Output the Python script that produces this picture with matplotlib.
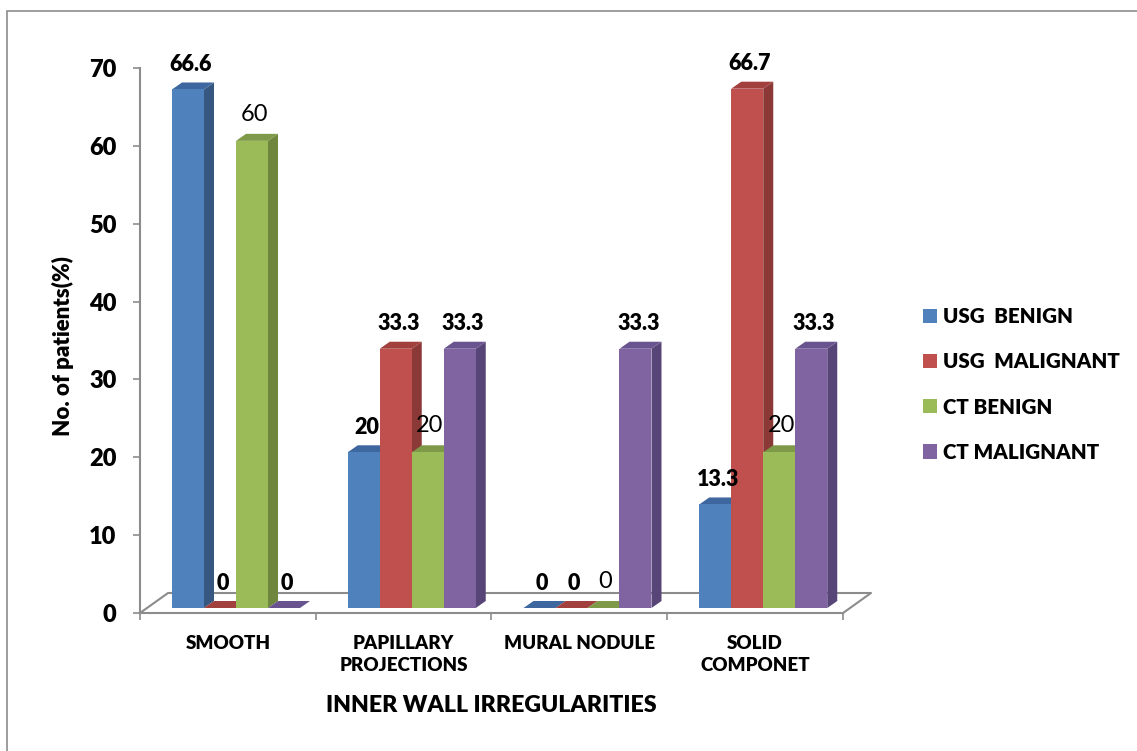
import matplotlib
matplotlib.use("Agg")
import matplotlib.pyplot as plt
from matplotlib.patches import Polygon, Patch, Rectangle
import numpy as np

plt.rcParams['font.family'] = ['Lato', 'DejaVu Sans']

# ---- data ----
categories = ["SMOOTH", "PAPILLARY\nPROJECTIONS", "MURAL NODULE", "SOLID\nCOMPONET"]
series_names = ["USG  BENIGN", "USG  MALIGNANT", "CT BENIGN", "CT MALIGNANT"]
usg_benign = [66.6, 20, 0, 13.3]
usg_malignant = [0, 33.3, 0, 66.7]
ct_benign = [60, 20, 0, 20]
ct_malignant = [0, 33.3, 33.3, 33.3]
y_ticks = [0, 10, 20, 30, 40, 50, 60, 70]

series_values = [usg_benign, usg_malignant, ct_benign, ct_malignant]
front_colors = ["#4F81BD", "#C0504D", "#9BBB59", "#8064A2"]
side_colors = ["#36577F", "#8A3937", "#6F863F", "#584578"]
top_colors = ["#3E67A0", "#A2403D", "#7E9A48", "#6A5490"]
label_bold = [True, True, False, True]

BOLD = 800

W, H = 1137, 751
fig = plt.figure(figsize=(W / 100, H / 100), dpi=100)
fig.patch.set_facecolor("white")

# outer frame of the chart area
fig.patches.append(Rectangle((7 / W, -0.05), 1.2, (H - 11) / H + 0.05,
                             transform=fig.transFigure, fill=False,
                             edgecolor="#8c8c8c", linewidth=1.2))

ax_l, ax_r, ax_t, ax_b = 140, 843, 68, 613
ax = fig.add_axes([ax_l / W, (H - ax_b) / H, (ax_r - ax_l) / W, (ax_b - ax_t) / H])
ax.set_xlim(0, 4)
ax.set_ylim(0, 70)
ax.set_facecolor("none")

px_x = (ax_r - ax_l) / 4.0
px_y = (ax_b - ax_t) / 70.0

bar_w = 32 / px_x
base = 5 / px_y
ddx, ddy = 10 / px_x, 7 / px_y
floor_dx, floor_dy = 28 / px_x, 20 / px_y

grey = "#8c8c8c"

# floor outline
ax.plot([0, floor_dx, 4 + floor_dx, 4], [0, floor_dy, floor_dy, 0],
        color=grey, lw=1.5, clip_on=False, zorder=2)

x_cat = np.arange(len(categories))
for i, (vals, fc, sc, tc) in enumerate(zip(series_values, front_colors,
                                            side_colors, top_colors)):
    lefts = x_cat + bar_w * (i + 1)
    z = 10 + 3 * i
    ax.bar(lefts, vals, width=bar_w, bottom=base, align="edge", color=fc,
           edgecolor="none", zorder=z + 1, clip_on=False, label=series_names[i])
    for left, v in zip(lefts, vals):
        top = base + v
        side = Polygon([(left + bar_w, base), (left + bar_w + ddx, base + ddy),
                        (left + bar_w + ddx, top + ddy), (left + bar_w, top)],
                       closed=True, facecolor=sc, edgecolor="none",
                       zorder=z, clip_on=False)
        cap = Polygon([(left, top), (left + ddx, top + ddy),
                       (left + bar_w + ddx, top + ddy), (left + bar_w, top)],
                      closed=True, facecolor=tc, edgecolor="none",
                      zorder=z, clip_on=False)
        ax.add_patch(side)
        ax.add_patch(cap)
        txt = f"{v:g}"
        if label_bold[i]:
            ax.annotate(txt, (left + bar_w / 2, top), xytext=(2, 18),
                        textcoords="offset points", ha="center", va="center",
                        fontsize=15.5, fontweight=BOLD, zorder=30)
        else:
            ax.annotate(txt, (left + bar_w / 2, top), xytext=(1.5, 19),
                        textcoords="offset points", ha="center", va="center",
                        fontsize=17, fontweight="normal", zorder=30)

# axes styling
for s in ["top", "right"]:
    ax.spines[s].set_visible(False)
ax.spines["left"].set_color(grey)
ax.spines["bottom"].set_color(grey)
ax.spines["left"].set_linewidth(1.5)
ax.spines["bottom"].set_linewidth(1.5)

ax.set_yticks(y_ticks)
ax.set_yticklabels([str(t) for t in y_ticks], fontsize=17, fontweight=BOLD)
ax.tick_params(axis="y", direction="out", length=5, width=1.2, color=grey, pad=12)

ax.set_xticks(x_cat + 0.5)
ax.set_xticklabels(categories, fontsize=13.5, fontweight=BOLD, linespacing=1.32)
ax.set_xticks(np.arange(0, 5), minor=True)
ax.tick_params(axis="x", which="major", length=0, pad=16)
ax.tick_params(axis="x", which="minor", direction="out", length=5, width=1.2, color=grey)

ax.set_xlabel("INNER WALL IRREGULARITIES", fontsize=16.7, fontweight=BOLD, va="center")
ax.xaxis.set_label_coords(0.5, (ax_b - 706) / (ax_b - ax_t))
ax.set_ylabel("No. of patients(%)", fontsize=16, fontweight=BOLD, va="center")
ax.yaxis.set_label_coords((63 - ax_l) / (ax_r - ax_l), 0.49)

handles = [Patch(facecolor=c, edgecolor="none") for c in front_colors]
ax.legend(handles, series_names, loc="center left",
          bbox_to_anchor=(923 / W, (H - 384.5) / H), bbox_transform=fig.transFigure,
          frameon=False, prop={"size": 14.8, "weight": BOLD},
          handlelength=0.68, handleheight=0.68, handletextpad=0.3,
          labelspacing=1.27, borderpad=0, borderaxespad=0)

fig.savefig("out.png", dpi=100, facecolor="white")
